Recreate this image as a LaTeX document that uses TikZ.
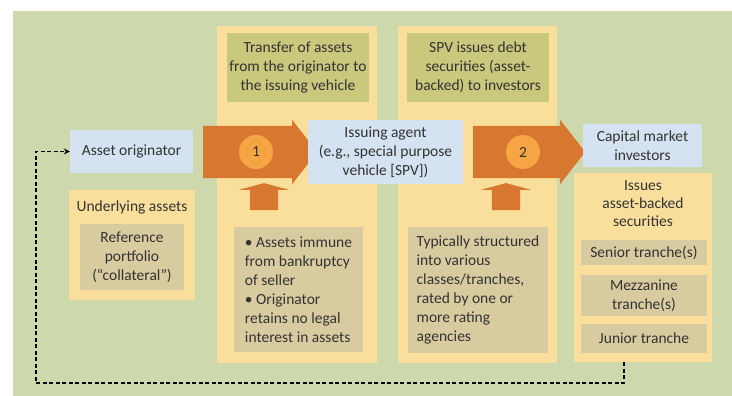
\documentclass[tikz,border=0pt]{standalone}
\usepackage{fontspec}
\setmainfont{Carlito}
\usetikzlibrary{positioning, arrows.meta, shapes.arrows}
\definecolor{bggreen}{HTML}{CED8AD}
\definecolor{colyellow}{HTML}{FADF9C}
\definecolor{hdrolive}{HTML}{C9C87D}
\definecolor{boxtan}{HTML}{D8CBA0}
\definecolor{partyblue}{HTML}{D5E2F1}
\definecolor{arroworange}{HTML}{D8772F}
\definecolor{circleorange}{HTML}{F7A445}
\definecolor{textgrey}{HTML}{333333}

\begin{document}
\begin{tikzpicture}[
      x=1pt, y=-1pt,
      every node/.style={font=\fontsize{15.5}{19}\selectfont, text=textgrey},
      col/.style={fill=colyellow, minimum width=160pt, minimum height=337pt, inner sep=0},
      hdr/.style={fill=hdrolive, minimum width=142pt, minimum height=69pt, align=center, inner sep=0},
      party/.style={fill=partyblue, align=center, inner sep=0},
      note/.style={fill=boxtan, align=center, inner sep=0},
      bigarrow/.style={single arrow, fill=arroworange, inner xsep=0pt, inner ysep=26pt, minimum width=64pt, single arrow head extend=6pt, single arrow tip angle=104},
      num/.style={circle, fill=circleorange, minimum size=34pt, inner sep=0},
      uparrow/.style={single arrow, shape border rotate=90, fill=arroworange, inner xsep=14pt, inner ysep=0pt, minimum width=50pt, minimum height=27pt, single arrow head extend=11pt, single arrow tip angle=150},
      feedback/.style={dashed, dash pattern=on 4pt off 2.5pt, line width=1.6pt, -{Stealth[length=6pt, width=6pt]}},
      >=Stealth,
    ]
    \useasboundingbox (0,0) rectangle (732,396);
    \fill[bggreen] (13,11) rectangle (732,396);

    % columns
    \node[col] (xfercol) at (297,194.5) {};
    \node[col, minimum width=159pt] (issuecol) at (477.5,194.5) {};
    \node[hdr] (xferhdr) at (298,67.5) {Transfer of assets\\from the originator to\\the issuing vehicle};
    \node[hdr] (issuehdr) at (478,67.5) {SPV issues debt\\securities (asset-\\backed) to investors};

    % originator side
    \node[party, minimum width=123pt, minimum height=43pt] (orig) at (131.5,151.5) {Asset originator};
    \node[fill=colyellow, minimum width=126pt, minimum height=110pt, inner sep=0] (undercol) at (132,245) {};
    \node (undertitle) at (132,207) {Underlying assets};
    \node[note, minimum width=104pt, minimum height=66pt] (refp) at (132,257) {Reference\\portfolio\\(``collateral'')};

    % main flow
    \node[bigarrow, minimum height=114pt] (arr1) at (250,152) {};
    \node[num] (num1) at (256,152) {1};
    \node[party, minimum width=155pt, minimum height=64pt] (spv) at (385.5,152) {Issuing agent\\(e.g., special purpose\\vehicle [SPV])};
    \node[bigarrow, minimum height=112pt] (arr2) at (519,152) {};
    \node[num] (num2) at (523,152) {2};
    \node[party, minimum width=119pt, minimum height=43pt] (inv) at (642.5,145.5) {Capital market\\investors};

    % notes under the arrows
    \node[uparrow] (up1) at (264,198.5) {};
    \node[uparrow] (up2) at (506,198.5) {};
    \node[note, align=left, minimum width=129pt, minimum height=125pt] (legalbox) at (298.5,289.5)
      {\textbullet{} Assets immune\\from bankruptcy\\of seller\\\textbullet{} Originator\\retains no legal\\interest in assets};
    \node[note, align=left, minimum width=140pt, minimum height=126pt] (tranchebox) at (478,290)
      {Typically structured\\into various\\classes/tranches,\\rated by one or\\more rating\\agencies};

    % securities
    \node[fill=colyellow, minimum width=138pt, minimum height=189pt, inner sep=0] (abscol) at (643,267.5) {};
    \node[align=center, font=\fontsize{15.5}{18}\selectfont] (abstitle) at (643,204) {Issues\\asset-backed\\securities};
    \node[note, minimum width=126pt, minimum height=25pt] (senior) at (644,252.5) {Senior tranche(s)};
    \node[note, minimum width=126pt, minimum height=41pt] (mezz) at (644,295.5) {Mezzanine\\tranche(s)};
    \node[note, minimum width=126pt, minimum height=29pt] (junior) at (644,338.5) {Junior tranche};

    % feedback
    \draw[feedback] ([xshift=-19pt]abscol.south) |- (36,383) |- (orig.west);
  \end{tikzpicture}
\end{document}
